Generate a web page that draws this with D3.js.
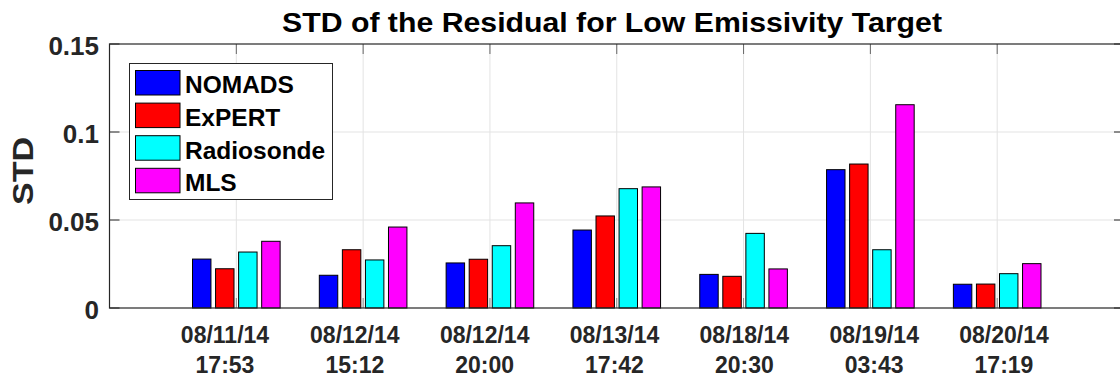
<!DOCTYPE html>
<html>
<head>
<meta charset="utf-8">
<script src="https://cdn.jsdelivr.net/npm/d3@7"></script>
<style>
  html, body { margin: 0; padding: 0; background: #fff; }
  svg { display: block; }
  text { font-family: "Liberation Sans", Arial, Helvetica, sans-serif; font-weight: bold; }
</style>
</head>
<body>
<svg id="chart" width="1120" height="378"></svg>
<script>
// ---- data ----
const dateLabels = ["08/11/14", "08/12/14", "08/12/14", "08/13/14", "08/18/14", "08/19/14", "08/20/14"];
const timeLabels = ["17:53", "15:12", "20:00", "17:42", "20:30", "03:43", "17:19"];
const seriesNames = ["NOMADS", "ExPERT", "Radiosonde", "MLS"];
const seriesColors = ["#0000ff", "#ff0000", "#00ffff", "#ff00ff"];
const nomads     = [0.0278, 0.0186, 0.0256, 0.0443, 0.0191, 0.0786, 0.0135];
const expert     = [0.0223, 0.0331, 0.0277, 0.0523, 0.0180, 0.0818, 0.0136];
const radiosonde = [0.0318, 0.0273, 0.0354, 0.0678, 0.0424, 0.0331, 0.0195];
const mls        = [0.0379, 0.0460, 0.0597, 0.0688, 0.0222, 0.1155, 0.0252];
const yTicks = [0, 0.05, 0.1, 0.15];
const yTickLabels = ["0", "0.05", "0.1", "0.15"];
const titleText = "STD of the Residual for Low Emissivity Target";
const yLabelText = "STD";

const series = [nomads, expert, radiosonde, mls];

(function () {
// ---- layout ----
const svg = d3.select("#chart");
const pLeft = 109.5, pRight = 1124, pTop = 44, pBottom = 308;
const axisColor = "#262626";
const gridColor = "#e3e3e3";

const x = d3.scaleLinear().domain([0, 8]).range([pLeft, pRight]);
const y = d3.scaleLinear().domain([0, 0.15]).range([pBottom, pTop]);
const labelX = d3.scaleLinear().domain([1, 7]).range([225, 1004]);

const nGroups = dateLabels.length;
const nSeries = series.length;
const groupWidth = Math.min(0.8, nSeries / (nSeries + 1.5));
const barStep = groupWidth / nSeries;
const barW = barStep * 0.8;

svg.append("rect").attr("width", 1120).attr("height", 378).attr("fill", "#fff");

// grid
const xTickVals = d3.range(1, nGroups + 1);
const g = svg.append("g");
g.selectAll(".vgrid").data(xTickVals).join("line")
  .attr("x1", d => x(d)).attr("x2", d => x(d))
  .attr("y1", pTop).attr("y2", pBottom)
  .attr("stroke", gridColor).attr("stroke-width", 1);
g.selectAll(".hgrid").data(yTicks.filter(d => d > 0 && d < 0.15)).join("line")
  .attr("x1", pLeft).attr("x2", pRight)
  .attr("y1", d => y(d)).attr("y2", d => y(d))
  .attr("stroke", gridColor).attr("stroke-width", 1);

// ticks (inner)
const tl = 10;
const ticks = svg.append("g").attr("stroke", axisColor).attr("stroke-width", 1);
xTickVals.forEach(v => {
  ticks.append("line").attr("x1", x(v)).attr("x2", x(v)).attr("y1", pTop).attr("y2", pTop + tl).attr("stroke", "#666");
  ticks.append("line").attr("x1", x(v)).attr("x2", x(v)).attr("y1", pBottom).attr("y2", pBottom - tl).attr("stroke", "#888");
});
yTicks.forEach(v => {
  ticks.append("line").attr("x1", pLeft).attr("x2", pLeft + tl).attr("y1", y(v)).attr("y2", y(v));
  ticks.append("line").attr("x1", pRight).attr("x2", pRight - tl).attr("y1", y(v)).attr("y2", y(v));
});

// bars
series.forEach((vals, s) => {
  const off = (s - (nSeries - 1) / 2) * barStep;
  svg.append("g").selectAll("rect").data(vals).join("rect")
    .attr("x", (d, i) => x(i + 1 + off - barW / 2))
    .attr("width", x(barW) - x(0))
    .attr("y", d => y(d))
    .attr("height", d => y(0) - y(d))
    .attr("fill", seriesColors[s])
    .attr("stroke", "#000").attr("stroke-width", 1);
});

// axes box
svg.append("rect").attr("x", pLeft).attr("y", pTop)
  .attr("width", pRight - pLeft).attr("height", pBottom - pTop)
  .attr("fill", "none").attr("stroke", axisColor).attr("stroke-width", 1.2);

// y tick labels
svg.append("g").selectAll("text").data(yTicks).join("text")
  .attr("x", 99).attr("y", d => y(d) + 11)
  .attr("text-anchor", "end").attr("font-size", 26).attr("fill", axisColor)
  .text((d, i) => yTickLabels[i]);

// x tick labels
const xl = svg.append("g");
xl.selectAll(".d").data(dateLabels).join("text")
  .attr("x", (d, i) => labelX(i + 1)).attr("y", 343)
  .attr("text-anchor", "middle").attr("font-size", 23).attr("fill", axisColor)
  .text(d => d);
xl.selectAll(".t").data(timeLabels).join("text")
  .attr("x", (d, i) => labelX(i + 1)).attr("y", 373)
  .attr("text-anchor", "middle").attr("font-size", 23).attr("fill", axisColor)
  .text(d => d);

// title
svg.append("text").attr("x", 612).attr("y", 32)
  .attr("text-anchor", "middle").attr("font-size", 27).attr("fill", "#000")
  .attr("textLength", 660).attr("lengthAdjust", "spacingAndGlyphs")
  .text(titleText);

// y label
svg.append("text")
  .attr("transform", "translate(33,171) rotate(-90)")
  .attr("text-anchor", "middle").attr("font-size", 30).attr("fill", axisColor)
  .attr("textLength", 68).attr("lengthAdjust", "spacingAndGlyphs")
  .text(yLabelText);

// legend
const lg = svg.append("g");
lg.append("rect").attr("x", 129.5).attr("y", 63.5).attr("width", 203).attr("height", 136)
  .attr("fill", "#fff").attr("stroke", axisColor).attr("stroke-width", 1);
seriesNames.forEach((name, i) => {
  const ty = 70.5 + i * 32.6;
  lg.append("rect").attr("x", 135.5).attr("y", ty).attr("width", 44.5).attr("height", 24.5)
    .attr("fill", seriesColors[i]).attr("stroke", "#000").attr("stroke-width", 1);
  lg.append("text").attr("x", 185).attr("y", ty + 22.8)
    .attr("font-size", 24.5).attr("fill", "#000").text(name);
});
})();
</script>
</body>
</html>
